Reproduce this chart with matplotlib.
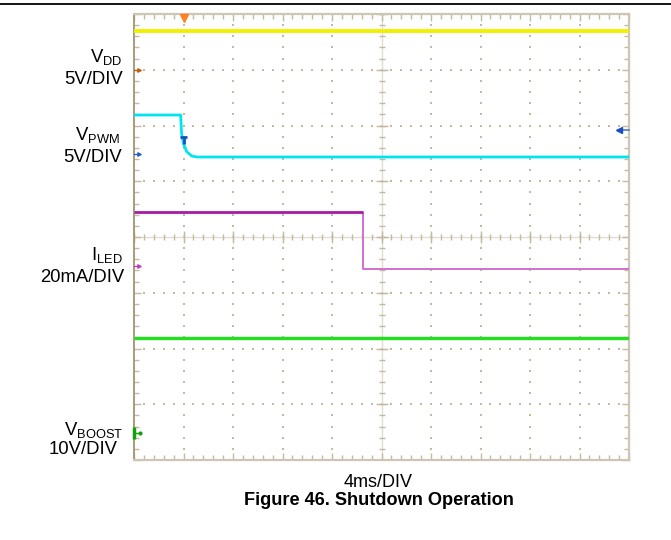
import numpy as np
import matplotlib
matplotlib.use("Agg")
import matplotlib.pyplot as plt

plt.rcParams['font.family'] = ['Liberation Sans', 'DejaVu Sans']
plt.rcParams['mathtext.fontset'] = 'custom'
plt.rcParams['mathtext.rm'] = 'Liberation Sans'
plt.rcParams['mathtext.it'] = 'Liberation Sans:italic'
plt.rcParams['mathtext.bf'] = 'Liberation Sans:bold'

# ---- data (screen divisions: x 0..10, y -4..4) ----
vdd_t = [0.0, 10.0]
vdd_v = [3.695, 3.695]

pwm_t = [0.0, 0.943, 0.96, 0.996, 1.065, 1.166, 1.267, 10.0]
pwm_v = [2.188, 2.188, 1.865, 1.681, 1.530, 1.453, 1.435, 1.435]

iled_hi_t = [0.0, 4.62]
iled_hi_v = [0.452, 0.452]
iled_lo_t = [4.62, 4.62, 10.0]
iled_lo_v = [0.452, -0.57, -0.57]

vboost_t = [0.0, 10.0]
vboost_v = [-1.81, -1.81]

# channel ground markers (y in divisions)
gnd_vdd = 3.0
gnd_pwm = 1.49
gnd_iled = -0.52
gnd_vboost = -3.52
trig_pos = 1.0
trig_level = 1.92

W, H = 671, 540
fig = plt.figure(figsize=(W / 100, H / 100), dpi=100)
fig.patch.set_facecolor('white')

def fx(px):
    return px / W

def fy(py):
    return 1 - py / H

ax = fig.add_axes([fx(134), fy(460), (629 - 134) / W, (460 - 14) / H])
ax.set_xlim(0, 10)
ax.set_ylim(-4, 4)
ax.set_facecolor('white')

gc = '#c4baa2'
# spines
for s in ['top', 'right', 'bottom']:
    ax.spines[s].set_color('#cdc6b4')
    ax.spines[s].set_linewidth(1.6)
ax.spines['left'].set_color('#a49372')
ax.spines['left'].set_linewidth(1.3)

# edge ticks
ax.set_xticks(np.arange(0, 10.01, 1))
ax.set_xticks(np.arange(0, 10.01, 0.2), minor=True)
ax.set_yticks(np.arange(-4, 4.01, 1))
ax.set_yticks(np.arange(-4, 4.01, 0.2), minor=True)
ax.tick_params(which='both', direction='in', top=True, right=True, left=True, bottom=True,
               labelbottom=False, labelleft=False, color=gc)
ax.tick_params(which='major', length=5, width=1)
ax.tick_params(which='minor', length=3.5, width=1)

# dotted grid
minx = np.arange(0, 10.01, 0.2)
miny = np.arange(-4, 4.01, 0.2)
for yv in [-3, -2, -1, 1, 2, 3]:
    ax.scatter(minx, np.full_like(minx, yv), s=1.2, marker='s', color=gc, linewidths=0, zorder=1)
for xv in [1, 2, 3, 4, 6, 7, 8, 9]:
    ax.scatter(np.full_like(miny, xv), miny, s=1.2, marker='s', color=gc, linewidths=0, zorder=1)

# center cross with ticks
ax.plot([0, 10], [0, 0], color='#e2ddd2', lw=1.0, zorder=1)
ax.plot([5, 5], [-4, 4], color='#e2ddd2', lw=1.0, zorder=1)
ax.plot(minx, np.zeros_like(minx), ls='none', marker='|', ms=5, mew=1, color=gc, zorder=1)
ax.plot(np.arange(0, 10.01, 1), np.zeros(11), ls='none', marker='|', ms=8, mew=1, color=gc, zorder=1)
ax.plot(np.full_like(miny, 5), miny, ls='none', marker='_', ms=5, mew=1, color=gc, zorder=1)
ax.plot(np.full(9, 5), np.arange(-4, 4.01, 1), ls='none', marker='_', ms=8, mew=1, color=gc, zorder=1)

# traces
ax.plot(vdd_t, vdd_v, color='#f2f000', lw=2.8, zorder=3, solid_capstyle='butt')
ax.plot(pwm_t, pwm_v, color='#00e4ee', lw=2.0, zorder=3, solid_capstyle='butt')
ax.plot(iled_lo_t, iled_lo_v, color='#d070d0', lw=1.4, zorder=3, solid_capstyle='butt')
ax.plot(iled_hi_t, iled_hi_v, color='#a81aa6', lw=2.0, zorder=3, solid_capstyle='butt')
ax.plot(vboost_t, vboost_v, color='#20e020', lw=2.4, zorder=3, solid_capstyle='butt')

# ground markers on left
for yv, c in [(gnd_vdd, '#c06010'), (gnd_pwm, '#2060d0'), (gnd_iled, '#c040c0')]:
    ax.plot([0, 0.1], [yv, yv], color=c, lw=0.9, zorder=4, clip_on=False)
    ax.plot([0.11], [yv], marker='>', ms=2.5, color=c, zorder=4, clip_on=False)
ax.plot([0.0, 0.0], [gnd_vboost - 0.11, gnd_vboost + 0.11], color='#10a010', lw=2.5, zorder=4,
        solid_capstyle='butt', clip_on=False)
ax.plot([0, 0.12], [gnd_vboost, gnd_vboost], color='#10a010', lw=1.0, zorder=4, clip_on=False)
ax.plot([0.12], [gnd_vboost], marker='o', ms=2, color='#10a010', zorder=4, clip_on=False)

# trigger position marker (top)
ax.plot([trig_pos], [3.93], marker='v', ms=6, color='#ff8020', zorder=5, clip_on=False)
# trigger level T marker on trace
ax.plot([trig_pos - 0.07, trig_pos + 0.07], [1.79, 1.79], color='#1a4fc0', lw=2, zorder=5,
        solid_capstyle='butt')
ax.plot([trig_pos, trig_pos], [1.79, 1.66], color='#1a4fc0', lw=2, zorder=5, solid_capstyle='butt')
# trigger level arrow on right
ax.plot([9.78, 10], [trig_level, trig_level], color='#4a7ad0', lw=1.2, zorder=5, clip_on=False)
ax.plot([9.8], [trig_level], marker='<', ms=5, color='#1a4fc0', zorder=5, clip_on=False)

# top rule
fig.add_artist(plt.Line2D([0, 1], [fy(4), fy(4)], color='black', lw=1.3, transform=fig.transFigure))

# channel labels
fs = 13.3
labels = [
    (r'V$_{\mathrm{DD}}$', 122, 62),
    ('5V/DIV', 123, 84),
    (r'V$_{\mathrm{PWM}}$', 120, 140),
    ('5V/DIV', 122, 162),
    (r'I$_{\mathrm{LED}}$', 123, 260),
    ('20mA/DIV', 124, 282),
    (r'V$_{\mathrm{BOOST}}$', 124, 435),
    ('10V/DIV', 118, 454),
]
for txt, x, y in labels:
    fig.text(fx(x), fy(y), txt, ha='right', va='baseline', fontsize=fs, color='black')

fig.text(fx(378), fy(487), '4ms/DIV', ha='center', va='baseline', fontsize=13, color='black')
fig.text(fx(379), fy(505), 'Figure 46. Shutdown Operation', ha='center', va='baseline',
         fontsize=13.1, fontweight='bold', color='black')

fig.savefig('out.png', dpi=100, facecolor='white')
